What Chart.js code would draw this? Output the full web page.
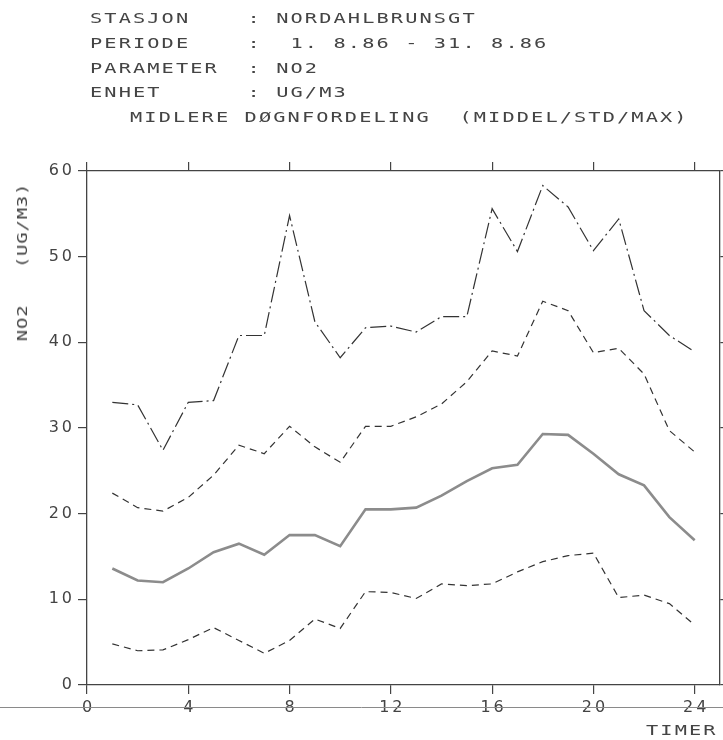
<!DOCTYPE html>
<html>
<head>
<meta charset="utf-8">
<script src="https://cdn.jsdelivr.net/npm/chart.js@4/dist/chart.umd.min.js"></script>
<style>
  html, body { margin: 0; padding: 0; background: #fff; }
  #wrap { position: relative; width: 723px; height: 740px; overflow: hidden; }
  #c { position: absolute; left: 0; top: 0; }
  /* plotter lettering: fixed pitch, wide glyphs */
  .t { position: absolute; font-family: "DejaVu Sans Mono", monospace; font-size: 14px;
       letter-spacing: 1.45px; color: #444; white-space: pre; line-height: 14px;
       transform: scaleX(1.45); transform-origin: 0 50%; }
  .v { position: absolute; font-family: "DejaVu Sans Mono", monospace; font-size: 14px;
       letter-spacing: 0.6px; color: #444; white-space: pre; line-height: 14px;
       width: 180px; text-align: center; transform-origin: 50% 50%;
       transform: rotate(-90deg) scaleX(1.35); }
</style>
</head>
<body>
<div id="wrap">
  <canvas id="c" width="723" height="740"></canvas>
  <div class="t" style="left:90px;top:11px">STASJON    : NORDAHLBRUNSGT</div>
  <div class="t" style="left:90px;top:36px">PERIODE    :  1. 8.86 - 31. 8.86</div>
  <div class="t" style="left:90px;top:61px">PARAMETER  : NO2</div>
  <div class="t" style="left:90px;top:85px">ENHET      : UG/M3</div>
  <div class="t" style="left:130px;top:110px">MIDLERE DØGNFORDELING  (MIDDEL/STD/MAX)</div>
  <div class="v" style="left:-68px;top:255px">NO2   (UG/M3)</div>
  <div class="t" style="left:646px;top:723px">TIMER</div>
</div>
<script>
// Hour of day, 1..24
const hours = [1,2,3,4,5,6,7,8,9,10,11,12,13,14,15,16,17,18,19,20,21,22,23,24];

// Hourly NO2 statistics, ug/m3
const maxValues  = [33.0,32.7,27.4,33.0,33.2,40.8,40.8,54.8,42.4,38.2,41.7,41.9,41.2,43.0,43.0,55.6,50.6,58.3,55.8,50.7,54.4,43.7,40.8,38.9];
const meanPlusStd = [22.4,20.7,20.3,21.9,24.5,28.0,27.0,30.2,27.8,26.0,30.2,30.2,31.3,32.8,35.4,39.0,38.4,44.8,43.7,38.8,39.3,36.3,29.7,27.2];
const meanValues = [13.6,12.2,12.0,13.6,15.5,16.5,15.2,17.5,17.5,16.2,20.5,20.5,20.7,22.1,23.8,25.3,25.7,29.3,29.2,27.0,24.6,23.3,19.6,16.9];
const meanMinusStd = [4.8,4.0,4.1,5.3,6.7,5.2,3.7,5.2,7.7,6.6,10.9,10.8,10.1,11.8,11.6,11.8,13.2,14.4,15.1,15.4,10.2,10.5,9.5,7.0];

// Axis ticks
const xTicks = [0,4,8,12,16,20,24];
const yTicks = [0,10,20,30,40,50,60];

const pts = vals => hours.map((h, i) => ({ x: h, y: vals[i] }));

const ink = '#444';
const tickFont = { family: 'DejaVu Sans', size: 16 };
const pitch = 3; // extra letter spacing for tick labels, px

const spacing = {
  id: 'spacing',
  beforeLayout(chart) { chart.ctx.letterSpacing = pitch + 'px'; },
  beforeDraw(chart) { chart.ctx.letterSpacing = pitch + 'px'; },
  afterDraw(chart) {
    // long rule running across the sheet under the plot frame
    const ctx = chart.ctx;
    ctx.save();
    ctx.strokeStyle = '#8a8a8a';
    ctx.lineWidth = 1;
    ctx.beginPath();
    ctx.moveTo(0, 707.5);
    ctx.lineTo(723, 707.5);
    ctx.stroke();
    ctx.restore();
  }
};

const frameGrid = { display: true, drawOnChartArea: false, drawTicks: true, tickLength: 9, color: ink, lineWidth: 1.2 };
const frameBorder = { display: true, color: ink, width: 1.3 };
const setTicks = list => scale => { scale.ticks = list.map(v => ({ value: v })); };

new Chart(document.getElementById('c'), {
  type: 'line',
  data: {
    datasets: [
      { label: 'MAX', data: pts(maxValues), borderColor: '#333', borderWidth: 1.2, borderDash: [16, 4, 2, 4], pointRadius: 0, tension: 0, fill: false },
      { label: 'MIDDEL+STD', data: pts(meanPlusStd), borderColor: '#333', borderWidth: 1.2, borderDash: [7, 5], pointRadius: 0, tension: 0, fill: false },
      { label: 'MIDDEL', data: pts(meanValues), borderColor: '#8c8c8c', borderWidth: 2.6, pointRadius: 0, tension: 0, fill: false },
      { label: 'MIDDEL-STD', data: pts(meanMinusStd), borderColor: '#333', borderWidth: 1.2, borderDash: [7, 5], pointRadius: 0, tension: 0, fill: false }
    ]
  },
  options: {
    responsive: false,
    devicePixelRatio: 1,
    animation: false,
    layout: { padding: 0 },
    plugins: { legend: { display: false }, tooltip: { enabled: false } },
    scales: {
      x: {
        type: 'linear', position: 'bottom', min: 0, max: 25,
        afterBuildTicks: setTicks(xTicks),
        afterFit: s => { s.height = 55; },
        grid: frameGrid, border: frameBorder,
        ticks: { font: tickFont, color: ink, padding: 4, maxRotation: 0, labelOffset: pitch / 2 }
      },
      x2: {
        type: 'linear', position: 'top', min: 0, max: 25, display: true,
        afterBuildTicks: setTicks(xTicks),
        afterFit: s => { s.height = 171; },
        grid: frameGrid, border: frameBorder,
        ticks: { display: false }
      },
      y: {
        type: 'linear', position: 'left', min: 0, max: 60,
        afterBuildTicks: setTicks(yTicks),
        afterFit: s => { s.width = 87; },
        grid: frameGrid, border: frameBorder,
        ticks: { font: tickFont, color: ink, padding: 3 }
      },
      y2: {
        type: 'linear', position: 'right', min: 0, max: 60, display: true,
        afterBuildTicks: setTicks(yTicks),
        afterFit: s => { s.width = 3; },
        grid: frameGrid, border: frameBorder,
        ticks: { display: false }
      }
    }
  },
  plugins: [spacing]
});
</script>
</body>
</html>
